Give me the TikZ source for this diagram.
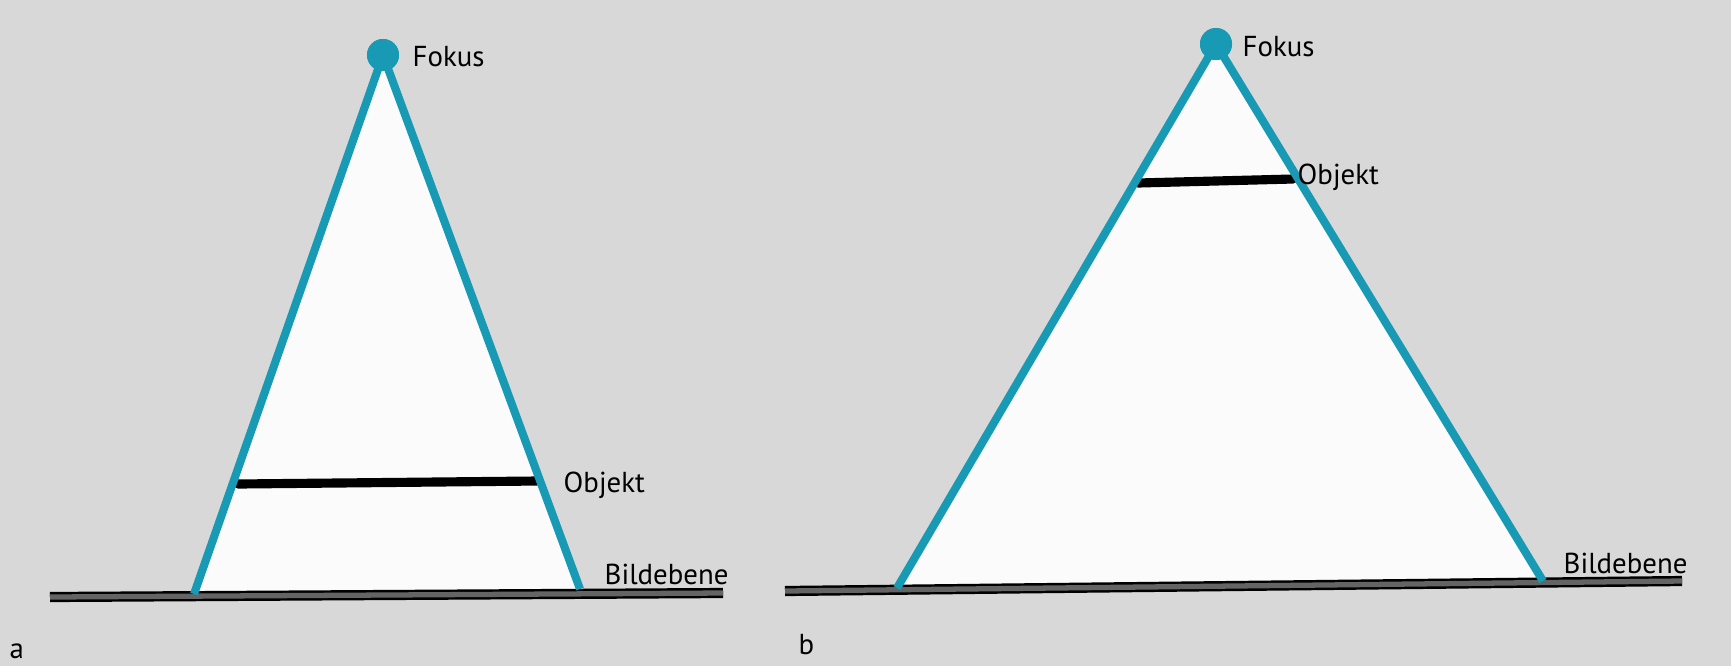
\documentclass[tikz,border=0pt]{standalone}
\usepackage{fontspec}
\setmainfont{PT Sans}
\usepackage{tikz}
\usetikzlibrary{calc}
\definecolor{rayblue}{RGB}{24,154,180}
\definecolor{paper}{RGB}{216,216,216}
\definecolor{sheet}{RGB}{251,251,251}
\definecolor{planegray}{RGB}{100,100,100}
\tikzset{
  ray/.style={rayblue,line width=2.3pt},
  focusdot/.style={circle,fill=rayblue,inner sep=0pt,minimum size=0.32cm},
  objline/.style={line width=2.6pt,line cap=round},
  plane/.style={draw=black,line width=0.7pt,double=planegray,double distance=1.5pt},
  lbl/.style={anchor=base west,inner sep=0pt,font=\fontsize{8.2}{10}\selectfont}
}

\begin{document}
\begin{tikzpicture}[x=0.01cm,y=-0.01cm]
  \fill[paper] (0,0) rectangle (1731,666);
  \useasboundingbox (0,0) rectangle (1731,666);

  % a
  \coordinate (fa) at (383,55);
  \coordinate (la) at (194,594);
  \coordinate (ra) at (580,589);
  \fill[sheet] (fa) -- (la) -- (ra) -- cycle;
  \coordinate (pa1) at (50,597);
  \coordinate (pa2) at (723,593);
  \draw[plane] (pa1) -- (pa2);
  \coordinate (oa1) at (238,484);
  \coordinate (oa2) at (537,481);
  \draw[objline] (oa1) -- (oa2);
  \node[focusdot] (focusa) at (fa) {};
  \draw[ray] (focusa.center) -- (la);
  \draw[ray] (focusa.center) -- (ra);
  \node[focusdot] at (fa) {};
  \node[lbl] (fokusa) at (412,66) {Fokus};
  \node[lbl] (objekta) at (563,492) {Objekt};
  \node[lbl] (bildebenea) at (604,584) {Bildebene};
  \node[lbl] (taga) at (9,658) {a};

  % b
  \coordinate (fb) at (1216,44);
  \coordinate (lb) at (897,588);
  \coordinate (rb) at (1543,581);
  \fill[sheet] (fb) -- (lb) -- (rb) -- cycle;
  \coordinate (pb1) at (785,591);
  \coordinate (pb2) at (1682,581);
  \draw[plane] (pb1) -- (pb2);
  \coordinate (ob1) at (1138,183);
  \coordinate (ob2) at (1293,179);
  \draw[objline] (ob1) -- (ob2);
  \node[focusdot] (focusb) at (fb) {};
  \draw[ray] (focusb.center) -- (lb);
  \draw[ray] (focusb.center) -- (rb);
  \node[focusdot] at (fb) {};
  \node[lbl] (fokusb) at (1242,56) {Fokus};
  \node[lbl] (objektb) at (1297,184) {Objekt};
  \node[lbl] (bildebeneb) at (1563,573) {Bildebene};
  \node[lbl] (tagb) at (798,654) {b};
\end{tikzpicture}
\end{document}
